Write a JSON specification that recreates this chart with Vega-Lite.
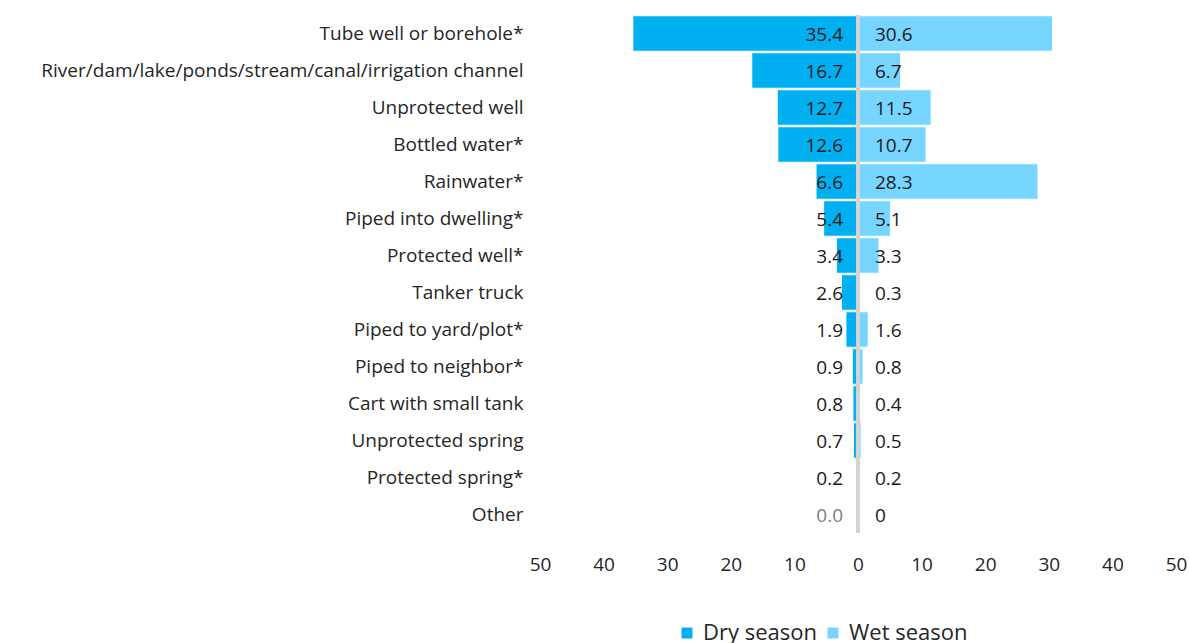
{
  "$schema": "https://vega.github.io/schema/vega-lite/v6.json",
  "padding": {"left": 0, "top": 13, "right": 10, "bottom": 0},
  "bounds": "flush",
  "config": {"view": {"stroke": null}, "font": "Open Sans", "concat": {"spacing": 0}},
  "spacing": 0,
  "data": {"values": [
    {"source": "Tube well or borehole*", "season": "Dry season", "value": 35.4, "label": "35.4"},
    {"source": "River/dam/lake/ponds/stream/canal/irrigation channel", "season": "Dry season", "value": 16.7, "label": "16.7"},
    {"source": "Unprotected well", "season": "Dry season", "value": 12.7, "label": "12.7"},
    {"source": "Bottled water*", "season": "Dry season", "value": 12.6, "label": "12.6"},
    {"source": "Rainwater*", "season": "Dry season", "value": 6.6, "label": "6.6"},
    {"source": "Piped into dwelling*", "season": "Dry season", "value": 5.4, "label": "5.4"},
    {"source": "Protected well*", "season": "Dry season", "value": 3.4, "label": "3.4"},
    {"source": "Tanker truck", "season": "Dry season", "value": 2.6, "label": "2.6"},
    {"source": "Piped to yard/plot*", "season": "Dry season", "value": 1.9, "label": "1.9"},
    {"source": "Piped to neighbor*", "season": "Dry season", "value": 0.9, "label": "0.9"},
    {"source": "Cart with small tank", "season": "Dry season", "value": 0.8, "label": "0.8"},
    {"source": "Unprotected spring", "season": "Dry season", "value": 0.7, "label": "0.7"},
    {"source": "Protected spring*", "season": "Dry season", "value": 0.2, "label": "0.2"},
    {"source": "Other", "season": "Dry season", "value": 0.0, "label": "0.0"},
    {"source": "Tube well or borehole*", "season": "Wet season", "value": 30.6, "label": "30.6"},
    {"source": "River/dam/lake/ponds/stream/canal/irrigation channel", "season": "Wet season", "value": 6.7, "label": "6.7"},
    {"source": "Unprotected well", "season": "Wet season", "value": 11.5, "label": "11.5"},
    {"source": "Bottled water*", "season": "Wet season", "value": 10.7, "label": "10.7"},
    {"source": "Rainwater*", "season": "Wet season", "value": 28.3, "label": "28.3"},
    {"source": "Piped into dwelling*", "season": "Wet season", "value": 5.1, "label": "5.1"},
    {"source": "Protected well*", "season": "Wet season", "value": 3.3, "label": "3.3"},
    {"source": "Tanker truck", "season": "Wet season", "value": 0.3, "label": "0.3"},
    {"source": "Piped to yard/plot*", "season": "Wet season", "value": 1.6, "label": "1.6"},
    {"source": "Piped to neighbor*", "season": "Wet season", "value": 0.8, "label": "0.8"},
    {"source": "Cart with small tank", "season": "Wet season", "value": 0.4, "label": "0.4"},
    {"source": "Unprotected spring", "season": "Wet season", "value": 0.5, "label": "0.5"},
    {"source": "Protected spring*", "season": "Wet season", "value": 0.2, "label": "0.2"},
    {"source": "Other", "season": "Wet season", "value": 0, "label": "0"}
  ]},
  "resolve": {"scale": {"x": "independent", "y": "shared", "color": "shared"}, "axis": {"y": "independent"}, "legend": {"color": "independent"}},
  "hconcat": [
    {
      "width": 318,
      "height": 518,
      "transform": [{"filter": "datum.season === 'Dry season'"}],
      "encoding": {
        "y": {
          "field": "source", "type": "nominal",
          "sort": ["Tube well or borehole*", "River/dam/lake/ponds/stream/canal/irrigation channel", "Unprotected well", "Bottled water*", "Rainwater*", "Piped into dwelling*", "Protected well*", "Tanker truck", "Piped to yard/plot*", "Piped to neighbor*", "Cart with small tank", "Unprotected spring", "Protected spring*", "Other"],
          "scale": {"paddingInner": 0.04, "paddingOuter": 0.02},
          "axis": {"title": null, "domain": false, "ticks": false, "labelPadding": 17, "labelFontSize": 19, "labelColor": "#262626", "minExtent": 540, "maxExtent": 540, "labelLimit": 600}
        }
      },
      "layer": [
        {
          "mark": {"type": "bar", "stroke": "white", "strokeWidth": 1},
          "encoding": {
            "x": {"field": "value", "type": "quantitative", "scale": {"domain": [0, 50], "reverse": true, "nice": false},
              "axis": {"values": [10, 20, 30, 40, 50], "title": null, "domain": false, "ticks": false, "grid": false, "labelFontSize": 19, "labelColor": "#262626", "labelPadding": 22, "labelFlush": false}},
            "color": {"field": "season", "type": "nominal",
              "scale": {"domain": ["Dry season", "Wet season"], "range": ["#00B0F0", "#76D6FF"]},
              "legend": {"orient": "none", "legendX": 136, "legendY": 607, "direction": "horizontal", "title": null, "symbolType": "square", "symbolSize": 120, "symbolStrokeWidth": 0, "labelFontSize": 22, "labelColor": "#262626", "columnPadding": 5, "labelOffset": 5}}
          }
        },
        {
          "mark": {"type": "text", "align": "right", "baseline": "middle", "dx": -15, "dy": 1, "fontSize": 19},
          "encoding": {
            "x": {"datum": 0},
            "text": {"field": "label"},
            "color": {"condition": {"test": "datum.label === '0.0'", "value": "#808080"}, "value": "#1a1a1a"}
          }
        }
      ]
    },
    {
      "width": 318,
      "height": 518,
      "transform": [{"filter": "datum.season === 'Wet season'"}],
      "layer": [
        {
          "mark": {"type": "bar", "stroke": "white", "strokeWidth": 1},
          "encoding": {
            "y": {
              "field": "source", "type": "nominal",
              "sort": ["Tube well or borehole*", "River/dam/lake/ponds/stream/canal/irrigation channel", "Unprotected well", "Bottled water*", "Rainwater*", "Piped into dwelling*", "Protected well*", "Tanker truck", "Piped to yard/plot*", "Piped to neighbor*", "Cart with small tank", "Unprotected spring", "Protected spring*", "Other"],
              "scale": {"paddingInner": 0.04, "paddingOuter": 0.02},
              "axis": null
            },
            "x": {"field": "value", "type": "quantitative", "scale": {"domain": [0, 50], "nice": false},
              "axis": {"values": [0, 10, 20, 30, 40, 50], "title": null, "domain": false, "ticks": false, "grid": false, "labelFontSize": 19, "labelColor": "#262626", "labelPadding": 22, "labelFlush": false}},
            "color": {"field": "season", "type": "nominal",
              "scale": {"domain": ["Dry season", "Wet season"], "range": ["#00B0F0", "#76D6FF"]},
              "legend": null}
          }
        },
        {
          "mark": {"type": "text", "align": "left", "baseline": "middle", "dx": 17, "dy": 1, "fontSize": 19},
          "encoding": {
            "y": {
              "field": "source", "type": "nominal",
              "sort": ["Tube well or borehole*", "River/dam/lake/ponds/stream/canal/irrigation channel", "Unprotected well", "Bottled water*", "Rainwater*", "Piped into dwelling*", "Protected well*", "Tanker truck", "Piped to yard/plot*", "Piped to neighbor*", "Cart with small tank", "Unprotected spring", "Protected spring*", "Other"],
              "axis": null
            },
            "x": {"datum": 0},
            "text": {"field": "label"},
            "color": {"value": "#1a1a1a"}
          }
        },
        {
          "mark": {"type": "rule", "color": "#d4d4d4", "strokeWidth": 3},
          "encoding": {"x": {"datum": 0}}
        }
      ]
    }
  ]
}
